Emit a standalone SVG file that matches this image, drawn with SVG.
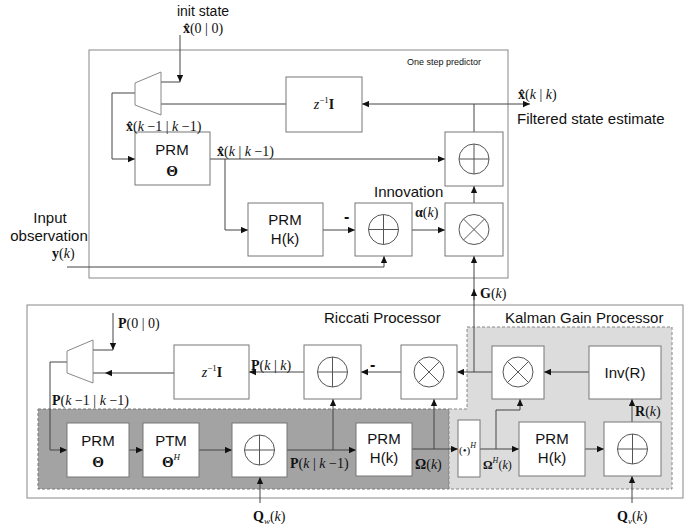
<svg xmlns="http://www.w3.org/2000/svg" xmlns:xlink="http://www.w3.org/1999/xlink" width="690" height="527" viewBox="0 0 690 527">
<style>
.ln{stroke:#444;stroke-width:1;fill:none}
.bx{fill:#fff;stroke:#777;stroke-width:1}
.frame{fill:none;stroke:#888;stroke-width:1}
.t{font-family:"Liberation Sans",Arial,sans-serif;font-size:15px;fill:#111}
.c{text-anchor:middle}
.m{font-family:"Liberation Serif","Times New Roman",serif;font-size:14px;fill:#111}
.b{font-weight:bold}
.i{font-style:italic}
.sym circle,.sym path{fill:none;stroke:#555;stroke-width:1}
</style>
<defs>
<marker id="a" viewBox="0 0 10 10" refX="10" refY="5" markerWidth="8" markerHeight="7" markerUnits="userSpaceOnUse" orient="auto"><path d="M0,0.5 L10,5 L0,9.5 z" fill="#111"/></marker>
<g id="sum" class="sym"><circle r="15"/><path d="M-15,0H15M0,-15V15"/></g>
<g id="mul" class="sym"><circle r="15"/><path d="M-10.6,-10.6L10.6,10.6M-10.6,10.6L10.6,-10.6"/></g>
</defs>
<rect width="690" height="527" fill="#fff"/>

<!-- frames -->
<g id="frames">
<rect class="frame" x="89" y="50" width="419" height="228"/>
<rect x="27" y="305" width="656" height="193" fill="#fff" stroke="#888"/>
<rect x="38" y="409" width="411" height="80" fill="#a3a3a3" stroke="#777" stroke-dasharray="3,2"/>
<path d="M467,327 H672 V489 H449 V409 H467 Z" fill="#dcdcdc" stroke="#888" stroke-dasharray="3,2"/>
<text class="t" x="407" y="65" style="font-size:9px">One step predictor</text>
<text class="t" x="324" y="323">Riccati Processor</text>
<text class="t" x="505" y="323">Kalman Gain Processor</text>
</g>

<!-- connectors -->
<g id="connectors">
<path class="ln" d="M180,35 V82" marker-end="url(#a)"/>
<path class="ln" d="M161,82 H180"/>
<path class="ln" d="M286,104 H161"/>
<path class="ln" d="M135,93 H112 V159 H135" marker-end="url(#a)"/>
<path class="ln" d="M210,159 H445" marker-end="url(#a)"/>
<path class="ln" d="M225,159 V230 H248" marker-end="url(#a)"/>
<path class="ln" d="M323,230 H355" marker-end="url(#a)"/>
<path class="ln" d="M412,230 H445" marker-end="url(#a)"/>
<path class="ln" d="M474,203 V186" marker-end="url(#a)"/>
<path class="ln" d="M474,132 V104"/>
<path class="ln" d="M474,104 H362" marker-end="url(#a)"/>
<path class="ln" d="M474,104 H530" marker-end="url(#a)"/>
<path class="ln" d="M67,267 H384 V256" marker-end="url(#a)"/>
<path class="ln" d="M474,372 V256" marker-end="url(#a)"/>
<path class="ln" d="M474,300 V289" marker-end="url(#a)"/>
<path class="ln" d="M113,313 V350" marker-end="url(#a)"/>
<path class="ln" d="M93,350 H113"/>
<path class="ln" d="M174,373 H105" marker-end="url(#a)"/>
<path class="ln" d="M105,373 H93"/>
<path class="ln" d="M67,362 H50 V450 H67" marker-end="url(#a)"/>
<path class="ln" d="M129,450 H143" marker-end="url(#a)"/>
<path class="ln" d="M199,450 H232" marker-end="url(#a)"/>
<path class="ln" d="M287,450 H356" marker-end="url(#a)"/>
<path class="ln" d="M333,450 V399" marker-end="url(#a)"/>
<path class="ln" d="M412,449 H458" marker-end="url(#a)"/>
<path class="ln" d="M434,449 V399" marker-end="url(#a)"/>
<path class="ln" d="M480,449 H519" marker-end="url(#a)"/>
<path class="ln" d="M496,449 V410 H520 V399" marker-end="url(#a)"/>
<path class="ln" d="M585,449 H604" marker-end="url(#a)"/>
<path class="ln" d="M632,422 V399" marker-end="url(#a)"/>
<path class="ln" d="M589,372 H544" marker-end="url(#a)"/>
<path class="ln" d="M492,372 H457" marker-end="url(#a)"/>
<path class="ln" d="M401,372 H361" marker-end="url(#a)"/>
<path class="ln" d="M304,372 H249" marker-end="url(#a)"/>
<path class="ln" d="M260,503 V477" marker-end="url(#a)"/>
<path class="ln" d="M632,503 V476" marker-end="url(#a)"/>
</g>

<!-- top section nodes -->
<g id="init">
<text class="t c" x="203" y="16" style="font-size:14px">init state</text>
<text class="m c" x="203" y="33"><tspan class="b">x̂</tspan>(0 | 0)</text>
</g>
<g id="mux1"><polygon points="135,83 161,72 161,115 135,105" fill="#fff" stroke="#888"/></g>
<g id="delay1">
<rect class="bx" x="286" y="77" width="76" height="55"/>
<text class="m c" x="324" y="109"><tspan class="i">z</tspan><tspan dy="-6" font-size="9">−1</tspan><tspan dy="6" class="b">I</tspan></text>
</g>
<g id="prm-theta1">
<rect class="bx" x="135" y="132" width="75" height="53"/>
<text class="t c" x="172" y="155">PRM</text>
<text class="m c b" x="172" y="176" style="font-size:15px">Θ</text>
</g>
<g id="prm-h1">
<rect class="bx" x="248" y="203" width="75" height="53"/>
<text class="t c" x="285" y="225">PRM</text>
<text class="t c" x="285" y="244">H(k)</text>
</g>
<g id="sum-innov">
<rect class="bx" x="355" y="203" width="57" height="53"/>
<use xlink:href="#sum" x="383.5" y="229.5"/>
<text class="t b" x="344" y="222" style="font-size:16px">-</text>
</g>
<g id="mul-gain">
<rect class="bx" x="445" y="203" width="58" height="53"/>
<use xlink:href="#mul" x="474" y="229.5"/>
</g>
<g id="sum-update">
<rect class="bx" x="445" y="132" width="58" height="54"/>
<use xlink:href="#sum" x="474" y="159"/>
</g>
<g id="top-labels">
<text class="m" x="126" y="131"><tspan class="b">x̂</tspan>(<tspan class="i">k</tspan> −1 | <tspan class="i">k</tspan> −1)</text>
<text class="m" x="217" y="156"><tspan class="b">x̂</tspan>(<tspan class="i">k</tspan> | <tspan class="i">k</tspan> −1)</text>
<text class="m" x="518" y="99"><tspan class="b">x̂</tspan>(<tspan class="i">k</tspan> | <tspan class="i">k</tspan>)</text>
<text class="t" x="517" y="124">Filtered state estimate</text>
<text class="t" x="374" y="197">Innovation</text>
<text class="m" x="415" y="217"><tspan class="b">α</tspan>(<tspan class="i">k</tspan>)</text>
<text class="t c" x="50" y="223">Input</text>
<text class="t c" x="49" y="241">observation</text>
<text class="m" x="52" y="258"><tspan class="b">y</tspan>(<tspan class="i">k</tspan>)</text>
<text class="m" x="480" y="298"><tspan class="b">G</tspan>(<tspan class="i">k</tspan>)</text>
</g>

<!-- bottom section nodes -->
<g id="mux2"><polygon points="67,351 93,340 93,383 67,373" fill="#fff" stroke="#888"/></g>
<g id="delay2">
<rect class="bx" x="174" y="345" width="75" height="54"/>
<text class="m c" x="212" y="377"><tspan class="i">z</tspan><tspan dy="-6" font-size="9">−1</tspan><tspan dy="6" class="b">I</tspan></text>
</g>
<g id="sum-ric">
<rect class="bx" x="304" y="345" width="57" height="54"/>
<use xlink:href="#sum" x="332.5" y="372"/>
<text class="t b" x="370" y="370" style="font-size:16px">-</text>
</g>
<g id="mul-ric">
<rect class="bx" x="401" y="345" width="56" height="54"/>
<use xlink:href="#mul" x="429" y="372"/>
</g>
<g id="mul-kal">
<rect class="bx" x="492" y="346" width="52" height="53"/>
<use xlink:href="#mul" x="518" y="372"/>
</g>
<g id="inv-r">
<rect class="bx" x="589" y="346" width="72" height="53"/>
<text class="t c" x="625" y="378">Inv(R)</text>
</g>
<g id="prm-theta2">
<rect class="bx" x="67" y="423" width="62" height="54"/>
<text class="t c" x="98" y="446">PRM</text>
<text class="m c b" x="98" y="467" style="font-size:15px">Θ</text>
</g>
<g id="ptm-theta">
<rect class="bx" x="143" y="423" width="56" height="54"/>
<text class="t c" x="171" y="446">PTM</text>
<text class="m c" x="171" y="467"><tspan class="b" style="font-size:15px">Θ</tspan><tspan dy="-7" font-size="9" class="i">H</tspan></text>
</g>
<g id="sum-p">
<rect class="bx" x="232" y="423" width="55" height="54"/>
<use xlink:href="#sum" x="259.5" y="450"/>
</g>
<g id="prm-h2">
<rect class="bx" x="356" y="423" width="56" height="53"/>
<text class="t c" x="384" y="444">PRM</text>
<text class="t c" x="384" y="463">H(k)</text>
</g>
<g id="herm">
<rect class="bx" x="458" y="420" width="22" height="57"/>
<text class="m" x="459" y="454" style="font-size:11px">(•)<tspan dy="-6" font-size="8" class="i">H</tspan></text>
</g>
<g id="prm-h3">
<rect class="bx" x="519" y="422" width="66" height="54"/>
<text class="t c" x="552" y="444">PRM</text>
<text class="t c" x="552" y="463">H(k)</text>
</g>
<g id="sum-r">
<rect class="bx" x="604" y="422" width="57" height="54"/>
<use xlink:href="#sum" x="632.5" y="449"/>
</g>
<g id="bottom-labels">
<text class="m" x="118" y="328"><tspan class="b">P</tspan>(0 | 0)</text>
<text class="m" x="251" y="370"><tspan class="b">P</tspan>(<tspan class="i">k</tspan> | <tspan class="i">k</tspan>)</text>
<text class="m" x="52" y="405"><tspan class="b">P</tspan>(<tspan class="i">k</tspan> −1 | <tspan class="i">k</tspan> −1)</text>
<text class="m" x="290" y="468"><tspan class="b">P</tspan>(<tspan class="i">k</tspan> | <tspan class="i">k</tspan> −1)</text>
<text class="m" x="415" y="469"><tspan class="b">Ω</tspan>(<tspan class="i">k</tspan>)</text>
<text class="m" x="483" y="469" style="font-size:12px"><tspan class="b">Ω</tspan><tspan dy="-6" font-size="8" class="i">H</tspan><tspan dy="6">(</tspan><tspan class="i">k</tspan>)</text>
<text class="m" x="635" y="416"><tspan class="b">R</tspan>(<tspan class="i">k</tspan>)</text>
<text class="m" x="253" y="521"><tspan class="b">Q</tspan><tspan dy="3" font-size="9" class="i">w</tspan><tspan dy="-3">(</tspan><tspan class="i">k</tspan>)</text>
<text class="m" x="617" y="521"><tspan class="b">Q</tspan><tspan dy="3" font-size="9" class="i">v</tspan><tspan dy="-3">(</tspan><tspan class="i">k</tspan>)</text>
</g>
</svg>
